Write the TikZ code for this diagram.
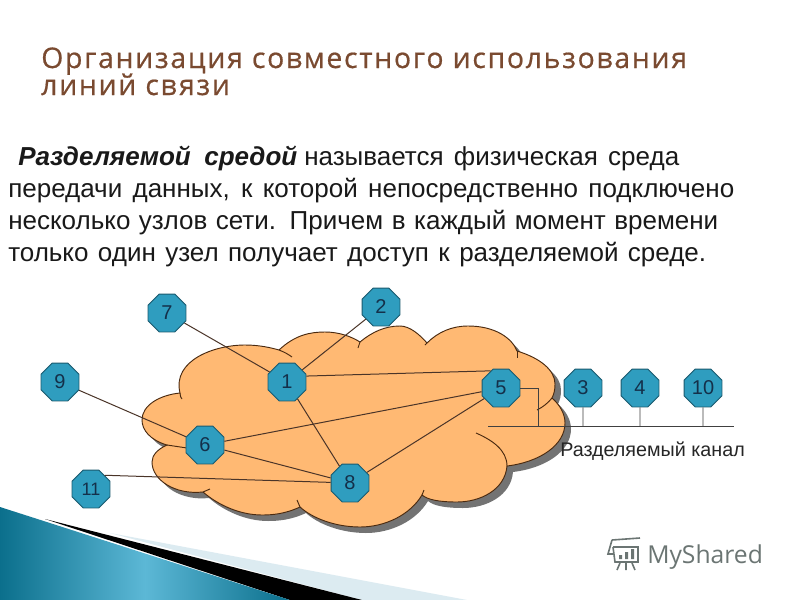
\documentclass[tikz,border=0pt]{standalone}
\usepackage{fontspec}
\setmainfont{Liberation Sans}
\newfontfamily\titlefont[LetterSpace=6,FakeBold=0.6]{Open Sans}
\newfontfamily\markfont{Open Sans}
\usetikzlibrary{shapes.geometric}
\definecolor{cloudfill}{HTML}{FFB973}
\definecolor{cloudline}{HTML}{4A2A10}
\definecolor{octfill}{HTML}{2F9DBF}
\definecolor{octline}{HTML}{1B5A6E}
\definecolor{octtext}{HTML}{14304A}
\definecolor{titlecol}{HTML}{7A4A30}
\definecolor{linkcol}{HTML}{4A3428}
\definecolor{markcol}{HTML}{6B7573}
\definecolor{wedgelight}{HTML}{DCEBF1}
\definecolor{bluedark}{HTML}{0B6F8C}
\definecolor{bluelight}{HTML}{5CB8D6}
\def\cloudshape{(180,393)
 .. controls (172,360) and (215,345) .. (245,345) .. controls (260,345) and (272,348) .. (279,350)
 .. controls (295,335) and (310,332) .. (325,332) .. controls (340,332) and (352,337) .. (360,342)
 .. controls (372,332) and (385,326) .. (400,326) .. controls (410,326) and (420,335) .. (427,343)
 .. controls (438,332) and (452,326) .. (468,326) .. controls (495,326) and (512,338) .. (517,351)
 .. controls (540,358) and (555,370) .. (555,384) .. controls (555,390) and (554,394) .. (552,398)
 .. controls (560,405) and (565,414) .. (565,423) .. controls (565,445) and (540,462) .. (507,466)
 .. controls (505,490) and (480,502) .. (457,502) .. controls (440,502) and (428,500) .. (422,495)
 .. controls (410,515) and (385,527) .. (360,527) .. controls (335,527) and (312,518) .. (300,507)
 .. controls (285,514) and (272,515) .. (262,515) .. controls (240,515) and (218,505) .. (203,492)
 .. controls (175,495) and (152,480) .. (152,462) .. controls (152,455) and (158,449) .. (167,445)
 .. controls (150,440) and (142,430) .. (142,420) .. controls (142,405) and (160,395) .. (180,393) -- cycle}
\tikzset{
 x=0.75pt,y=-0.75pt,
 octnode/.style={regular polygon,regular polygon sides=8,draw=octline,fill=octfill,line width=0.7pt,minimum size=30.8pt,inner sep=0pt,text=octtext,font=\fontsize{15}{15}\selectfont},
 smalloct/.style={octnode,font=\fontsize{13.5}{14}\selectfont},
 link/.style={draw=linkcol,line width=0.75pt},
 busline/.style={draw=black!75,line width=0.7pt},
 tick/.style={draw=cloudline,line width=0.7pt},
 bodyline/.style={anchor=base west,inner sep=0pt,font=\fontsize{19.5}{20}\selectfont,text=black!90},
 titleline/.style={anchor=base west,inner sep=0pt,text=titlecol,font=\titlefont\fontsize{21.3}{22}\selectfont},
 caption/.style={anchor=base west,inner sep=0pt,font=\fontsize{14.8}{16}\selectfont,text=black!85},
}
\begin{document}
\begin{tikzpicture}
\useasboundingbox (0,0) rectangle (800,600);
\fill[white] (0,0) rectangle (800,600);
% bottom decoration
\fill[wedgelight] (110,533) -- (467,600) -- (362,600) -- cycle;
\fill[black] (45,519) -- (362,600) -- (290,600) -- cycle;
\shade[left color=bluedark,right color=bluedark,middle color=bluelight] (0,507) -- (290,600) -- (0,600) -- cycle;
% cloud
\fill[black!55,xshift=4.5pt,yshift=-4.5pt] \cloudshape;
\filldraw[fill=cloudfill,draw=cloudline,line width=0.7pt] \cloudshape;
\draw[tick] (180,393) .. controls (180,396) and (181,398) .. (182,399);
\draw[tick] (279,350) .. controls (284,352) and (288,354) .. (292,357);
\draw[tick] (360,342) -- (358,348);
\draw[tick] (427,343) -- (425,345);
\draw[tick] (517,351) -- (517,358);
\draw[tick] (552,398) .. controls (548,403) and (543,407) .. (537,410);
\draw[tick] (507,466) .. controls (507,450) and (492,440) .. (476,433);
\draw[tick] (422,495) -- (424,490);
\draw[tick] (300,507) -- (297,500);
\draw[tick] (203,492) -- (210,489);
\draw[tick] (167,445) -- (187,448);
% title
\node[titleline] (title1) at (41,68) {Организация совместного использования};
\node[titleline] (title2) at (41,95) {линий связи};
% body
\node[bodyline] (body1) at (18,165) {\makebox[209.3pt][s]{\textbf{\textit{Разделяемой средой}}}\hspace{5.2pt}\makebox[281.2pt][s]{называется физическая среда}};
\node[bodyline] (body2) at (8,197) {\makebox[544.5pt][s]{передачи данных, к которой непосредственно подключено}};
\node[bodyline] (body3) at (8,229) {\makebox[532.5pt][s]{несколько узлов сети. Причем в каждый момент времени}};
\node[bodyline] (body4) at (8,261) {\makebox[523.5pt][s]{только один узел получает доступ к разделяемой среде.}};
% nodes
\node[octnode] (n7) at (167,313) {7};
\node[octnode] (n2) at (381,307) {2};
\node[octnode] (n9) at (60,382) {9};
\node[octnode] (n1) at (287,382) {1};
\node[octnode] (n6) at (205,445) {6};
\node[octnode] (n8) at (350,483) {8};
\node[smalloct] (n11) at (91,489) {11};
\node[octnode] (n5) at (501,388) {5};
\node[octnode] (n3) at (583,388) {3};
\node[octnode] (n4) at (640,388) {4};
\node[octnode] (n10) at (703,388) {10};
% bus
\coordinate (busL) at (488,426);
\coordinate (busR) at (734,426);
\coordinate (bus5) at (538,426);
\path (n3 |- busL) coordinate (bus3);
\path (n4 |- busL) coordinate (bus4);
\path (n10 |- busL) coordinate (bus10);
% links
\draw[link] (n7) -- (n1);
\draw[link] (n2) -- (n1);
\draw[link] (n9) -- (n6);
\draw[link] (n1.17) -- (n5.121);
\draw[link] (n6) -- (n5);
\draw[link] (n8) -- (n5);
\draw[link] (n1) -- (n8);
\draw[link] (n6) -- (n8);
\draw[link] (n11.45) -- (n8);
\draw[busline] (busL) -- (busR);
\draw[busline] (n5.east) -| (bus5);
\draw[busline] (n3) -- (bus3);
\draw[busline] (n4) -- (bus4);
\draw[busline] (n10) -- (bus10);
\node[caption] (chan) at (560,456) {Разделяемый канал};
% watermark
\node[anchor=base west,inner sep=0pt,text=markcol,font=\markfont\fontsize{18.5}{20}\selectfont] (mark) at (647,563) {MyShared};
\draw[markcol,line width=1.2pt] (612,540) -- (640,538) (613,547) -- (638,547) -- (638,562) -- (615,562) -- (613,547) (612,540) -- (608,554) -- (613,554);
\fill[markcol] (619,555) rectangle (622,559) (625,552) rectangle (628,559) (631,549) rectangle (634,559);
\draw[markcol,line width=1.2pt] (620,563) -- (617,570) (626,563) -- (626,570) (632,563) -- (635,570);
\end{tikzpicture}
\end{document}
